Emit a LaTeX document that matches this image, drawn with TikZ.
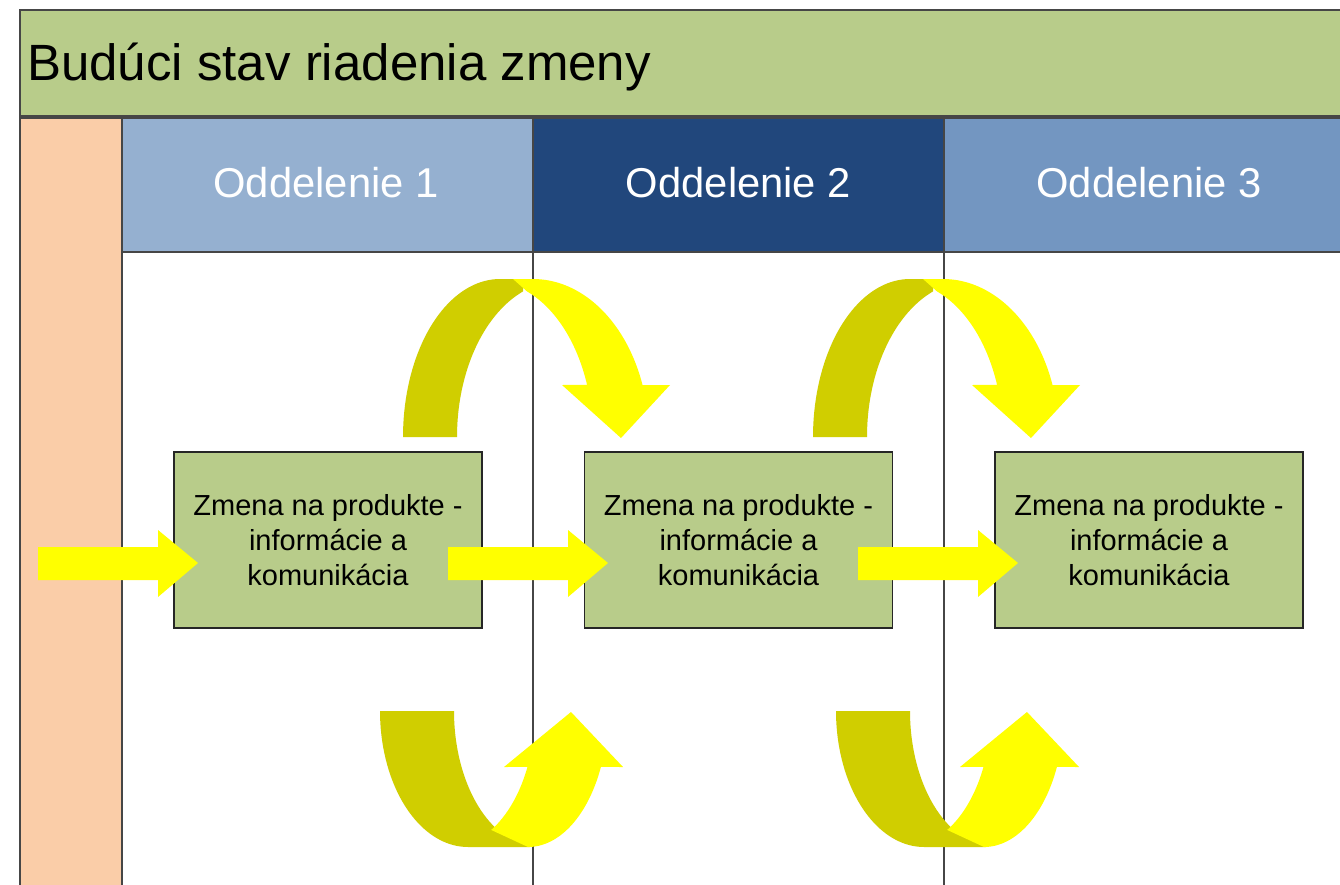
\documentclass[tikz,border=0pt]{standalone}
\usepackage{fontspec}
\setmainfont{Liberation Sans}
\definecolor{titlegreen}{RGB}{184,204,138}
\definecolor{boxgreen}{RGB}{184,204,138}
\definecolor{hdrone}{RGB}{149,176,208}
\definecolor{hdrtwo}{RGB}{33,71,124}
\definecolor{hdrthree}{RGB}{115,150,193}
\definecolor{orangecol}{RGB}{250,205,168}
\definecolor{linegray}{RGB}{70,70,70}
\definecolor{fwdyellow}{RGB}{255,255,0}
\definecolor{darkyellow}{RGB}{208,206,0}
\tikzset{
  frame/.style={draw=linegray, line width=0.9pt},
  hdrtext/.style={text=white, anchor=base, inner sep=0pt, font=\fontsize{31.3pt}{36pt}\selectfont},
  procbox/.style={draw=black!85, line width=0.8pt, fill=boxgreen, minimum width=231pt, minimum height=132pt,
    align=center, inner sep=0pt, font=\fontsize{21.75pt}{26.25pt}\selectfont},
  fwd/.style={fill=fwdyellow, draw=none},
  back/.style={fill=darkyellow, draw=none},
  toparc/.pic={
    \fill[back] (403,437) -- plot[domain=180:270, samples=40] ({500+97*cos(\x)},{437+158*sin(\x)})
      -- (523,279) -- plot[domain=249:180, samples=40] ({560+103*cos(\x)},{437+156*sin(\x)}) -- cycle;
    \fill[fwd] (513,279) -- plot[domain=270:340.8, samples=40] ({533+116*cos(\x)},{437+158*sin(\x)})
      -- (670,385) -- (621,438) -- (562,385)
      -- plot[domain=340.5:291, samples=40] ({490+103*cos(\x)},{437+156*sin(\x)}) -- cycle;
  },
  botarc/.pic={
    \fill[back] (380,711) -- (454,711) -- plot[domain=180:119, samples=40] ({539+85*cos(\x)},{711+136*sin(\x)})
      -- (530,847) -- plot[domain=90:180, samples=40] ({468+88*cos(\x)},{711+136*sin(\x)}) -- cycle;
    \fill[fwd] plot[domain=90:24.3, samples=40] ({528+80*cos(\x)},{711+136*sin(\x)})
      -- (623,767) -- (571,712) -- (504,767)
      -- plot[domain=24.3:61, samples=40] ({450+85*cos(\x)},{711+136*sin(\x)}) -- cycle;
  },
  straightarr/.pic={
    \fill[fwd] (38,547) -- (158,547) -- (158,530) -- (198,563) -- (158,597) -- (158,580) -- (38,580) -- cycle;
  }
}
\begin{document}
\begin{tikzpicture}[x=0.75pt,y=-0.75pt]
\useasboundingbox (0,0) rectangle (1340,885);
\fill[white] (0,0) rectangle (1340,885);
% title bar
\fill[titlegreen] (20,10) rectangle (1345,116);
\draw[frame] (1345,10) -- (20,10) -- (20,116) -- (1345,116);
\node[anchor=base west, inner sep=0pt, font=\fontsize{38.25pt}{46pt}\selectfont] (title) at (27,80) {Budúci stav riadenia zmeny};
% orange column
\fill[orangecol] (20,118) rectangle (122,890);
% headers
\fill[hdrone] (122,118) rectangle (533,252);
\fill[hdrtwo] (533,118) rectangle (944,252);
\fill[hdrthree] (944,118) rectangle (1345,252);
\draw[frame] (20,890) -- (20,118) -- (1345,118);
\draw[frame] (122,252) -- (1345,252);
\draw[frame] (122,118) -- (122,890);
\draw[frame] (533,118) -- (533,890);
\draw[frame] (944,118) -- (944,890);
\node[hdrtext] (h1) at (326,197) {Oddelenie 1};
\node[hdrtext] (h2) at (738.5,197) {Oddelenie 2};
\node[hdrtext] (h3) at (1149,197) {Oddelenie 3};
% curved arrows
\pic at (0,0) {toparc};
\pic at (410,0) {toparc};
\pic at (0,0) {botarc};
\pic at (456,0) {botarc};
% process boxes
\node[procbox] (b1) at (328,540) {Zmena na produkte -\\informácie a\\komunikácia};
\node[procbox] (b2) at (738.5,540) {Zmena na produkte -\\informácie a\\komunikácia};
\node[procbox] (b3) at (1149,540) {Zmena na produkte -\\informácie a\\komunikácia};
% straight arrows
\pic at (0,0) {straightarr};
\pic at (410,0) {straightarr};
\pic at (820,0) {straightarr};
\end{tikzpicture}
\end{document}
